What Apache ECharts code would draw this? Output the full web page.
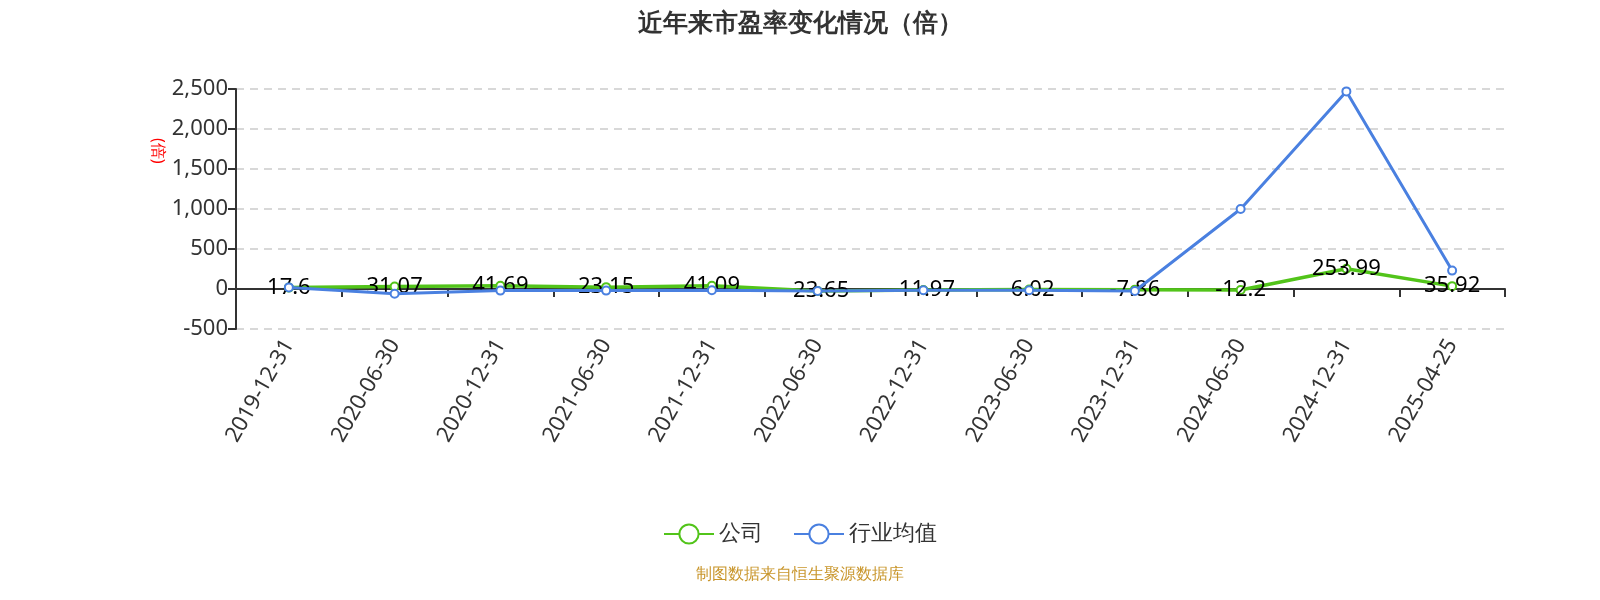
<!DOCTYPE html><html><head><meta charset="utf-8"><script src="https://cdn.jsdelivr.net/npm/echarts@6/dist/echarts.min.js"></script></head><body style="margin:0"><div id="c" style="width:1600px;height:600px"></div><script>
const categories=['2019-12-31','2020-06-30','2020-12-31','2021-06-30','2021-12-31','2022-06-30','2022-12-31','2023-06-30','2023-12-31','2024-06-30','2024-12-31','2025-04-25'];
const company=[17.6,31.07,41.69,23.15,41.09,-23.65,-11.97,-6.02,-7.86,-12.2,253.99,35.92];
const industry=[20,-60,-20,-20,-15,-25,-15,-15,-25,1000,2470,230];
const yTicks=[-500,0,500,1000,1500,2000,2500];
const F='"Noto Sans","Open Sans",sans-serif';
const c=echarts.init(document.getElementById('c'));
c.setOption({
textStyle:{fontFamily:F},
title:{text:'近年来市盈率变化情况（倍）',left:'center',top:6,textStyle:{fontSize:25,fontWeight:'bold',color:'#333',fontFamily:F}},
grid:{left:236,right:95,top:89,bottom:271},
legend:{bottom:50,itemWidth:50,itemHeight:24,itemGap:30,textStyle:{fontSize:22,color:'#333',fontFamily:F},data:['公司','行业均值']},
graphic:[{type:'text',left:'center',top:566,style:{text:'制图数据来自恒生聚源数据库',fill:'#c9962c',fontSize:16,fontFamily:F}},
{type:'text',x:166,y:138,rotation:-Math.PI/2,style:{text:'(倍)',fill:'red',fontSize:16,fontFamily:F}}],
xAxis:{type:'category',data:categories,axisLine:{onZero:true,lineStyle:{color:'#333',width:2}},axisTick:{show:true,length:8,lineStyle:{color:'#333',width:2}},axisLabel:{rotate:60,fontSize:22,color:'#333',margin:12,fontFamily:F}},
yAxis:{type:'value',min:yTicks[0],max:yTicks[yTicks.length-1],interval:500,axisLine:{show:true,lineStyle:{color:'#333',width:2}},axisTick:{show:true,length:8,lineStyle:{width:2}},axisLabel:{fontSize:22,color:'#333',fontFamily:F},splitLine:{lineStyle:{type:[8,6],color:'#ccc',width:1.5}}},
series:[
{name:'公司',type:'line',data:company,symbol:'emptyCircle',symbolSize:8,itemStyle:{color:'#52c41a',borderWidth:2},lineStyle:{width:3.5,color:'#52c41a'},label:{show:true,fontSize:22,color:'#000',position:'inside',fontFamily:F},z:2},
{name:'行业均值',type:'line',data:industry,symbol:'emptyCircle',symbolSize:8,itemStyle:{color:'#4a80e0',borderWidth:2},lineStyle:{width:3,color:'#4a80e0'},z:3}
]});
</script></body></html>
